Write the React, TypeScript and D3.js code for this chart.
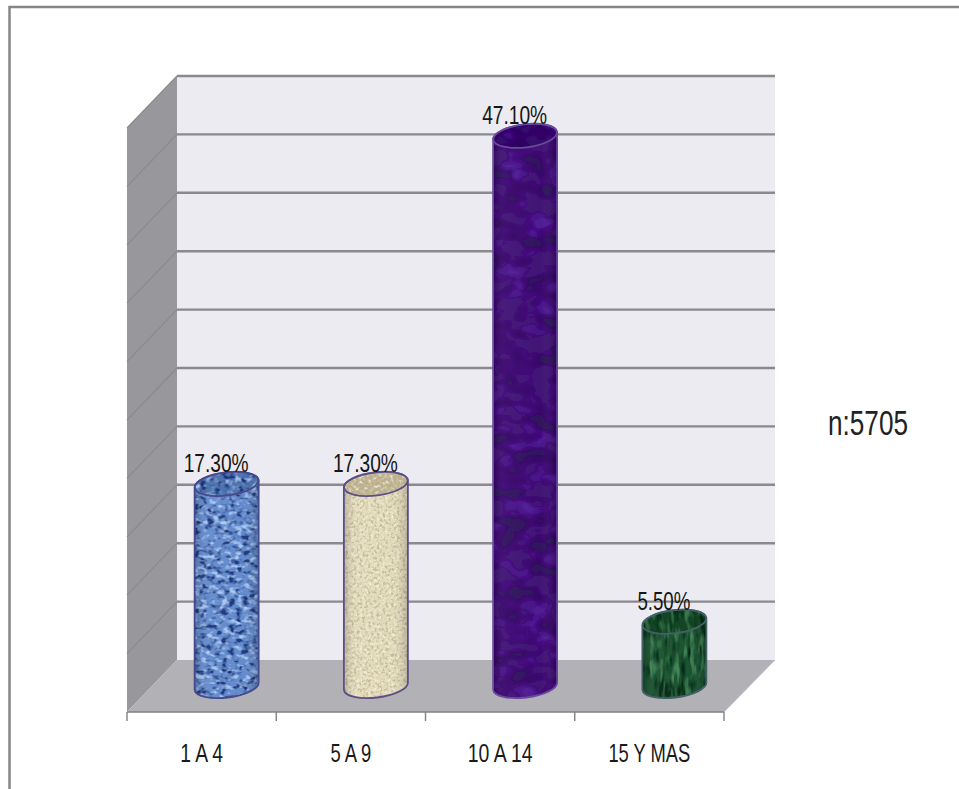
import React from "react";
import * as d3 from "d3";

const categories = ["1 A 4", "5 A 9", "10 A 14", "15 Y MAS"];
const percentages = [17.3, 17.3, 47.1, 5.5];
const valueLabels = ["17.30%", "17.30%", "47.10%", "5.50%"];
const valueLabelWidths = [65, 65, 65, 53];
const categoryWidths = [43, 41, 65, 82];
const gridTicks = [0, 5, 10, 15, 20, 25, 30, 35, 40, 45, 50];
const sampleNote = "n:5705";

const bodyColors = ["#5f88cc", "#e2dabb", "#3a0c72", "#174e2a"];
const capColors = ["#4f74b0", "#b9ad8e", "#36086a", "#174526"];
const edgeColors = ["#48488c", "#5d4f85", "#6a4a9c", "#46606a"];
const grainDark = ["#12307c", "#c4b992", "#2a0858", "#062410"];
const grainLight = ["#a8c8f6", "#f2ecd4", "#4a1490", "#3c8050"];
const grainFreq = ["0.14 0.2", "0.35 0.35", "0.04 0.06", "0.2 0.05"];

const W = 959;
const H = 789;
const depthX = 50;
const depthY = 52;
const FONT = "'Liberation Sans', Arial, sans-serif";

const xBand = d3.scaleBand<string>().domain(categories).range([127, 724]);
const yFront = d3.scaleLinear().domain([0, 50]).range([712, 128]);
const back = (v: number) => yFront(v) - depthY;
const barMid = (v: number) => yFront(v) - 26;

const radiusX = 32;
const radiusY = 11.5;
const tilt = -7;

// Outline of a cylinder standing on the floor, with slanted elliptical ends.
function cylinderPath(cx: number, v: number) {
  const top = barMid(v);
  const base = barMid(0);
  const lift = radiusX * Math.sin((-tilt * Math.PI) / 180);
  return [
    `M${cx - radiusX},${top + lift}`,
    `L${cx - radiusX},${base + lift}`,
    `A${radiusX},${radiusY} ${tilt} 0 0 ${cx + radiusX},${base - lift}`,
    `L${cx + radiusX},${top - lift}`,
    `A${radiusX},${radiusY} ${tilt} 0 0 ${cx - radiusX},${top + lift}`,
    "Z",
  ].join(" ");
}

export default function App() {
  const wall = d3.line()([
    [127 + depthX, back(50)],
    [127, yFront(50)],
    [127, yFront(0)],
    [127 + depthX, back(0)],
  ]) + "Z";
  const floor = d3.line()([
    [127, yFront(0)],
    [127 + depthX, back(0)],
    [775, back(0)],
    [724, yFront(0)],
  ]) + "Z";
  const boundaries = [...categories.map((c) => xBand(c)!), 724];

  return (
    <svg width={W} height={H} style={{ position: "absolute", left: 0, top: 0, background: "#fff" }}>
      <defs>
        {categories.map((c, i) => (
          <React.Fragment key={c}>
            <filter id={`grain${i}`} x="0" y="0" width="100%" height="100%">
              <feTurbulence type="fractalNoise" baseFrequency={grainFreq[i]} numOctaves={2} seed={i + 3} result="n" />
              <feColorMatrix in="n" type="matrix" values="0 0 0 0 0  0 0 0 0 0  0 0 0 0 0  4 0 0 0 -1.9" result="darkMask" />
              <feColorMatrix in="n" type="matrix" values="0 0 0 0 0  0 0 0 0 0  0 0 0 0 0  0 4 0 0 -2" result="lightMask" />
              <feFlood floodColor={grainDark[i]} result="darkTone" />
              <feFlood floodColor={grainLight[i]} result="lightTone" />
              <feComposite in="darkTone" in2="darkMask" operator="in" result="darkSpeck" />
              <feComposite in="lightTone" in2="lightMask" operator="in" result="lightSpeck" />
              <feMerge result="m">
                <feMergeNode in="SourceGraphic" />
                <feMergeNode in="lightSpeck" />
                <feMergeNode in="darkSpeck" />
              </feMerge>
              <feComposite in="m" in2="SourceAlpha" operator="in" />
              <feGaussianBlur stdDeviation="0.5" />
            </filter>
            <linearGradient id={`shade${i}`} x1="0" x2="1" y1="0" y2="0">
              <stop offset="0" stopColor="#000" stopOpacity={0.18} />
              <stop offset="0.2" stopColor="#fff" stopOpacity={0.06} />
              <stop offset="0.75" stopColor="#fff" stopOpacity={0.03} />
              <stop offset="1" stopColor="#000" stopOpacity={0.18} />
            </linearGradient>
          </React.Fragment>
        ))}
      </defs>

      {/* outer frame */}
      <path d="M9.5,789 V7 H959" fill="none" stroke="#868686" strokeWidth={2.5} />

      {/* walls and floor */}
      <rect x={127 + depthX} y={back(50)} width={598} height={back(0) - back(50)} fill="#ebebf1" />
      <path d={wall} fill="#98989c" />
      <path d={floor} fill="#b2b2b6" />

      {/* gridlines run along the side wall and across the back */}
      {gridTicks.map((t) =>
        t > 0 ? (
          <g key={t} stroke="#8a8a8c" fill="none">
            <line x1={127 + depthX} x2={775} y1={back(t)} y2={back(t)} strokeWidth={2.4} />
            <line x1={127} x2={127 + depthX} y1={yFront(t)} y2={back(t)} strokeWidth={1.2} />
          </g>
        ) : null
      )}
      <line x1={775} y1={back(0)} x2={724} y2={yFront(0)} stroke="#c4c4c8" strokeWidth={1} />

      {/* category axis */}
      <line x1={127} x2={724} y1={yFront(0)} y2={yFront(0)} stroke="#808084" strokeWidth={1.6} />
      {boundaries.map((x) => (
        <line key={x} x1={x} x2={x} y1={yFront(0)} y2={yFront(0) + 9} stroke="#808084" strokeWidth={1.4} />
      ))}
      {categories.map((c, i) => (
        <text
          key={c}
          x={xBand(c)! + xBand.bandwidth() / 2}
          y={762}
          textAnchor="middle"
          fontFamily={FONT}
          fontSize={26}
          fill="#1a1a1a"
          textLength={categoryWidths[i]}
          lengthAdjust="spacingAndGlyphs"
        >
          {c}
        </text>
      ))}

      {/* cylinders */}
      {categories.map((c, i) => {
        const cx = xBand(c)! + xBand.bandwidth() / 2 + 25;
        const v = percentages[i];
        const top = barMid(v);
        return (
          <g key={c}>
            <path d={cylinderPath(cx, v)} fill={bodyColors[i]} filter={`url(#grain${i})`} />
            <path d={cylinderPath(cx, v)} fill={`url(#shade${i})`} stroke={edgeColors[i]} strokeWidth={1.8} />
            <ellipse cx={cx} cy={top} rx={radiusX} ry={radiusY} transform={`rotate(${tilt} ${cx} ${top})`} fill={capColors[i]} filter={`url(#grain${i})`} />
            <ellipse cx={cx} cy={top} rx={radiusX} ry={radiusY} transform={`rotate(${tilt} ${cx} ${top})`} fill="none" stroke={edgeColors[i]} strokeWidth={1.8} />
            <text
              x={cx - 10.5}
              y={top - 12}
              textAnchor="middle"
              fontFamily={FONT}
              fontSize={26}
              fill="#161616"
              textLength={valueLabelWidths[i]}
              lengthAdjust="spacingAndGlyphs"
            >
              {valueLabels[i]}
            </text>
          </g>
        );
      })}

      <text x={868} y={435} textAnchor="middle" fontFamily={FONT} fontSize={35} fill="#222" textLength={80} lengthAdjust="spacingAndGlyphs">
        {sampleNote}
      </text>
    </svg>
  );
}
